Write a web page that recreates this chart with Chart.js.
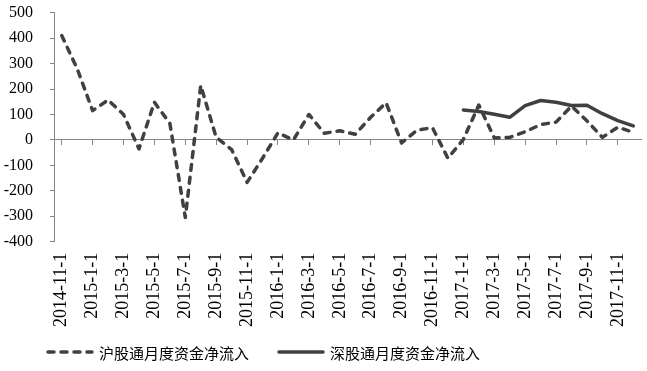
<!DOCTYPE html>
<html>
<head>
<meta charset="utf-8">
<script src="https://cdn.jsdelivr.net/npm/chart.js@4/dist/chart.umd.min.js"></script>
<style>
  html, body { margin: 0; padding: 0; background: #fff; }
  #wrap { position: relative; width: 647px; height: 371px; }
  .key { position: absolute; top: 342px; height: 20px; display: flex; align-items: center;
         font: 15px 'Noto Sans CJK SC', sans-serif; color: #000; white-space: nowrap; }
  .key svg { margin-right: 5px; }
</style>
</head>
<body>
<div id="wrap">
  <canvas id="flow"></canvas>
  <div class="key" id="key0" style="left:46px"></div>
  <div class="key" id="key1" style="left:277px"></div>
</div>
<script>
// monthly net inflow, 2014-11 .. 2017-12
const months = [
  '2014-11-1', '2014-12-1',
  '2015-1-1', '2015-2-1', '2015-3-1', '2015-4-1', '2015-5-1', '2015-6-1',
  '2015-7-1', '2015-8-1', '2015-9-1', '2015-10-1', '2015-11-1', '2015-12-1',
  '2016-1-1', '2016-2-1', '2016-3-1', '2016-4-1', '2016-5-1', '2016-6-1',
  '2016-7-1', '2016-8-1', '2016-9-1', '2016-10-1', '2016-11-1', '2016-12-1',
  '2017-1-1', '2017-2-1', '2017-3-1', '2017-4-1', '2017-5-1', '2017-6-1',
  '2017-7-1', '2017-8-1', '2017-9-1', '2017-10-1', '2017-11-1', '2017-12-1'
];
const shanghai = [
  410, 280,
  115, 157, 100, -35, 148, 65,
  -305, 214, 10, -38, -167, -72,
  28, 0, 100, 26, 36, 22,
  89, 146, -12, 38, 48, -72,
  2, 137, 8, 10, 32, 60,
  70, 133, 75, 10, 50, 30
];
const shenzhen = [
  null, null,
  null, null, null, null, null, null,
  null, null, null, null, null, null,
  null, null, null, null, null, null,
  null, null, null, null, null, null,
  118, 112, 101, 89, 135, 155,
  148, 135, 136, 103, 76, 55
];
const seriesNames = ['沪股通月度资金净流入', '深股通月度资金净流入'];
const yMin = -400, yMax = 500, yStep = 100;

const lineColor = '#404040';
const axisColor = '#868686';
const serif = "'Liberation Serif', 'Times New Roman', serif";

const chart = new Chart(document.getElementById('flow'), {
    type: 'line',
    data: {
        labels: months,
        datasets: [{
            label: seriesNames[0],
            data: shanghai,
            borderColor: lineColor,
            backgroundColor: lineColor,
            borderWidth: 3.5,
            borderDash: [6, 7],
            borderCapStyle: 'round',
            borderJoinStyle: 'round',
            pointRadius: 0,
            tension: 0
        }, {
            label: seriesNames[1],
            data: shenzhen,
            borderColor: lineColor,
            backgroundColor: lineColor,
            borderWidth: 3.5,
            borderCapStyle: 'round',
            borderJoinStyle: 'round',
            pointRadius: 0,
            tension: 0
        }]
    },
    options: {
        responsive: true,
        maintainAspectRatio: false,
        animation: false,
        layout: { padding: { top: 12.7, right: 6, left: 0, bottom: 30 } },
        plugins: {
            tooltip: { enabled: false },
            legend: { display: false }
        },
        scales: {
            x: {
                type: 'category',
                offset: true,
                border: { display: false },
                grid: { display: false, drawTicks: false },
                ticks: {
                    autoSkip: false,
                    minRotation: 90,
                    maxRotation: 90,
                    padding: 11,
                    color: '#000',
                    font: { family: serif, size: 18 },
                    callback: function(v, i) { return i % 2 === 0 ? months[i] : ''; }
                },
                afterFit: function(s) { s.height = 99.3; s.paddingLeft = 0; s.paddingRight = 0; }
            },
            // zero line, tick marks between every second month
            x2: {
                type: 'category',
                offset: true,
                position: { y: 0 },
                border: { display: true, color: axisColor, width: 1 },
                grid: {
                    drawOnChartArea: false,
                    drawTicks: true,
                    tickLength: 5,
                    color: function(c) { return (c.type !== 'tick' || c.index % 2 === 0) ? axisColor : 'rgba(0,0,0,0)'; }
                },
                ticks: { display: false }
            },
            y: {
                min: yMin,
                max: yMax,
                border: { display: true, color: axisColor, width: 1 },
                grid: { drawOnChartArea: false, drawTicks: true, tickLength: 4, color: axisColor },
                ticks: {
                    stepSize: yStep,
                    padding: 17,
                    color: '#000',
                    font: { family: serif, size: 16 }
                },
                afterFit: function(s) { s.width = 54; s.paddingTop = 0; s.paddingBottom = 0; }
            }
        }
    }
});

// legend as html text, samples styled like the datasets
chart.data.datasets.forEach(function(ds, i) {
    const dash = ds.borderDash ? ' stroke-dasharray="' + ds.borderDash.join(' ') + '"' : '';
    document.getElementById('key' + i).innerHTML =
        '<svg width="48" height="8"><line x1="2" y1="4" x2="46" y2="4" stroke="' + ds.borderColor +
        '" stroke-width="' + ds.borderWidth + '" stroke-linecap="round"' + dash + '/></svg>' +
        '<span>' + ds.label + '</span>';
});
</script>
</body>
</html>
